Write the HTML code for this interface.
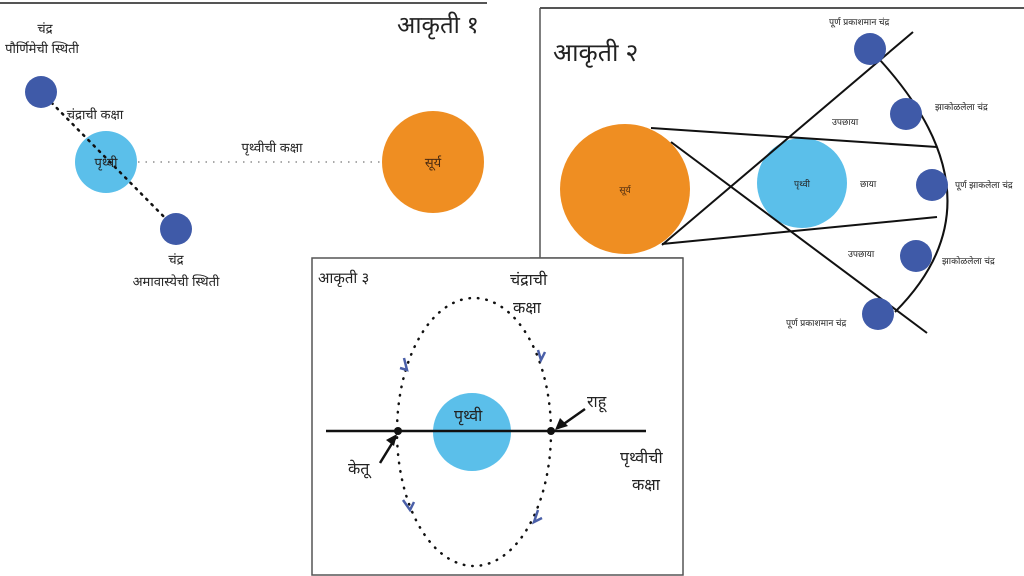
<!DOCTYPE html>
<html><head><meta charset="utf-8"><style>
html,body{margin:0;padding:0;background:#fff;}
svg{display:block;font-family:"Liberation Sans","Noto Sans CJK JP",sans-serif;}
</style></head><body>
<svg width="1024" height="576" viewBox="0 0 1024 576" xmlns="http://www.w3.org/2000/svg">
<rect width="1024" height="576" fill="#fff"/>
<!-- Figure 1 -->
<line x1="0" y1="3" x2="487" y2="3" stroke="#555" stroke-width="2"/>
<text x="438" y="33" font-size="24" text-anchor="middle" fill="#222">आकृती १</text>
<line x1="138" y1="162" x2="380" y2="162" stroke="#aaa" stroke-width="2" stroke-dasharray="1.5 6"/>
<circle cx="106" cy="162" r="31" fill="#5bbfea"/>
<line x1="41" y1="92" x2="176" y2="229" stroke="#111" stroke-width="2.5" stroke-dasharray="1.5 6" stroke-linecap="round"/>
<circle cx="41" cy="92" r="16" fill="#3f5aa8"/>
<circle cx="176" cy="229" r="16" fill="#3f5aa8"/>
<circle cx="433" cy="162" r="51" fill="#ef8e22"/>
<g font-size="13" fill="#222" text-anchor="middle">
<text x="45" y="33">चंद्र</text>
<text x="42" y="53">पौर्णिमेची स्थिती</text>
<text x="95" y="119">चंद्राची कक्षा</text>
<text x="106" y="167">पृथ्वी</text>
<text x="272" y="152">पृथ्वीची कक्षा</text>
<text x="433" y="167" fill="#4a2a10">सूर्य</text>
<text x="176" y="264">चंद्र</text>
<text x="176" y="286">अमावास्येची स्थिती</text>
</g>
<!-- Figure 2 -->
<line x1="540" y1="8" x2="1024" y2="8" stroke="#555" stroke-width="2"/>
<line x1="540" y1="8" x2="540" y2="258" stroke="#555" stroke-width="1.5"/>
<line x1="530" y1="258" x2="683" y2="258" stroke="#777" stroke-width="1.5"/>
<text x="553" y="61" font-size="25" fill="#222">आकृती २</text>
<circle cx="625" cy="189" r="65" fill="#ef8e22"/>
<circle cx="802" cy="183" r="45" fill="#5bbfea"/>
<g stroke="#111" stroke-width="2" fill="none">
<line x1="651" y1="128" x2="937" y2="147"/>
<line x1="662" y1="244" x2="937" y2="217"/>
<line x1="671" y1="142" x2="927" y2="333"/>
<line x1="662" y1="245" x2="913" y2="32"/>
<path d="M880 60 Q1007 200 895 312"/>
</g>
<g fill="#3f5aa8">
<circle cx="870" cy="49" r="16"/>
<circle cx="906" cy="114" r="16"/>
<circle cx="932" cy="185" r="16"/>
<circle cx="916" cy="256" r="16"/>
<circle cx="878" cy="314" r="16"/>
</g>
<g font-size="9" fill="#222">
<text x="829" y="25">पूर्ण प्रकाशमान चंद्र</text>
<text x="935" y="110">झाकोळलेला चंद्र</text>
<text x="955" y="188">पूर्ण झाकलेला चंद्र</text>
<text x="942" y="264">झाकोळलेला चंद्र</text>
<text x="786" y="326">पूर्ण प्रकाशमान चंद्र</text>
<text x="832" y="125">उपछाया</text>
<text x="860" y="187">छाया</text>
<text x="848" y="257">उपछाया</text>
<text x="625" y="193" text-anchor="middle" fill="#4a2a10">सूर्य</text>
<text x="802" y="187" text-anchor="middle">पृथ्वी</text>
</g>
<!-- Figure 3 -->
<rect x="312" y="258" width="371" height="317" fill="#fff" stroke="#555" stroke-width="1.5"/>
<text x="318" y="283" font-size="15" fill="#222">आकृती ३</text>
<circle cx="472" cy="432" r="39" fill="#5bbfea"/>
<ellipse cx="474" cy="432" rx="77" ry="134" fill="none" stroke="#111" stroke-width="2.5" stroke-dasharray="0.5 8" stroke-linecap="round"/>
<line x1="326" y1="431" x2="646" y2="431" stroke="#111" stroke-width="2.5"/>
<circle cx="398" cy="431" r="4" fill="#111"/>
<circle cx="551" cy="431" r="4" fill="#111"/>
<line x1="585" y1="409" x2="558" y2="428" stroke="#111" stroke-width="2.5"/>
<polygon points="555,430 560,418 568,426" fill="#111"/>
<line x1="380" y1="463" x2="396" y2="437" stroke="#111" stroke-width="2.5"/>
<polygon points="397,434 386,440 394,446" fill="#111"/>
<g stroke="#4a5fa8" stroke-width="2.5" fill="none">
<path d="M404 358 L407 370 L400 368"/>
<path d="M538 350 L541 360 L545 352"/>
<path d="M403 500 L410 510 L414 502"/>
<path d="M538 510 L534 522 L542 518"/>
</g>
<g font-size="16" fill="#222">
<text x="510" y="285">चंद्राची</text>
<text x="513" y="313">कक्षा</text>
<text x="454" y="421">पृथ्वी</text>
<text x="587" y="407">राहू</text>
<text x="348" y="474">केतू</text>
<text x="620" y="463">पृथ्वीची</text>
<text x="632" y="490">कक्षा</text>
</g>
</svg>
</body></html>
